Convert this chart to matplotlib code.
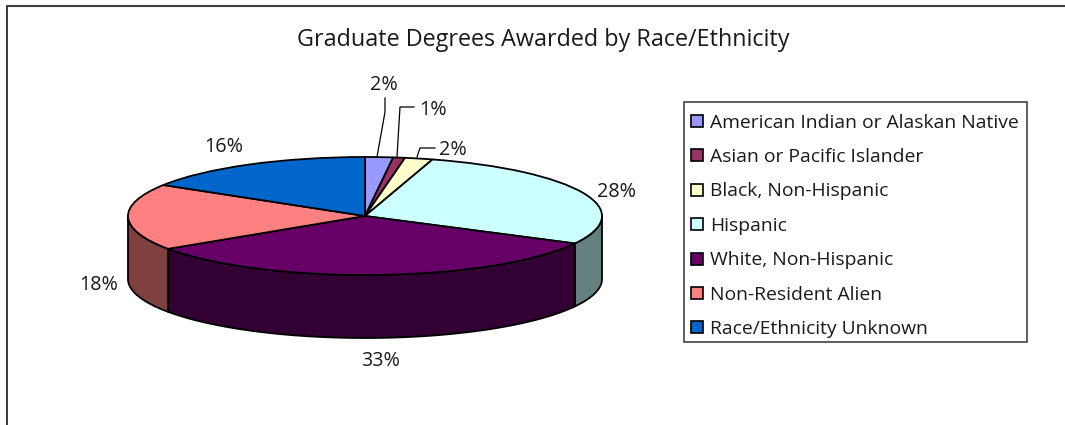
import numpy as np
import matplotlib
matplotlib.use("Agg")
import matplotlib.pyplot as plt
from matplotlib.patches import Polygon, Rectangle

title = "Graduate Degrees Awarded by Race/Ethnicity"
categories = ["American Indian or Alaskan Native", "Asian or Pacific Islander",
              "Black, Non-Hispanic", "Hispanic", "White, Non-Hispanic",
              "Non-Resident Alien", "Race/Ethnicity Unknown"]
values = [1.9, 0.8, 1.9, 28.1, 32.9, 18.2, 16.2]
labels = ["2%", "1%", "2%", "28%", "33%", "18%", "16%"]
colors = ["#9999FF", "#993366", "#FFFFCC", "#CCFFFF", "#660066", "#FF8080", "#0066CC"]
shades = ["#66669A", "#662244", "#9A9A80", "#668080", "#330033", "#804040", "#003366"]

W, H = 1065, 425
CX, CY, RX, RY, DEPTH = 365, 216, 237, 59, 63
FONT = "Open Sans"
plt.rcParams["font.family"] = [FONT, "DejaVu Sans"]
TXT = "#1a1a1a"

fig = plt.figure(figsize=(W / 100, H / 100), dpi=100, facecolor="white")
bg = fig.add_axes([0, 0, 1, 1])
bg.set_xlim(0, W); bg.set_ylim(H, 0); bg.axis("off")
bg.plot([7.3, 7.3], [425, 5], color="black", lw=1.1, solid_capstyle="butt")
bg.plot([7, 1065], [6, 6], color="#404040", lw=1.5, solid_capstyle="butt")

# pie axes: one data unit = one radius, in both directions
ax = fig.add_axes([0, 0, 1, 1], facecolor="none")
vals = np.array(values)
edges = 90 - 360 * np.concatenate([[0], np.cumsum(vals)]) / vals.sum()

def yd(d):
    return d / RY

# side walls of the slices visible on the front
for i in range(len(vals)):
    a0, a1 = edges[i], edges[i + 1]
    lo, hi = max(a1, -180), min(a0, 0)
    if hi <= lo:
        continue
    t = np.radians(np.linspace(hi, lo, 80))
    x, y = np.cos(t), np.sin(t)
    pts = np.r_[np.c_[x, y], np.c_[x, y - yd(DEPTH)][::-1]]
    ax.add_patch(Polygon(pts, closed=True, fc=shades[i], ec="black", lw=1.3, joinstyle="round"))

ax.pie(vals, colors=colors, startangle=90, counterclock=False, radius=1,
       wedgeprops=dict(edgecolor="black", linewidth=1.3))
ax.set_aspect("auto")
ax.set_xlim(-CX / RX, (W - CX) / RX)
ax.set_ylim(-(H - CY) / RY, CY / RY)
ax.axis("off")

bg.set_zorder(0); ax.set_zorder(1)
top = fig.add_axes([0, 0, 1, 1], facecolor="none")
top.set_xlim(0, W); top.set_ylim(H, 0); top.axis("off")
top.set_zorder(2)

top.text(543.5, 40, title, ha="center", va="center", fontsize=16.8, color=TXT)

label_pos = [(384, 85), (433, 110), (453, 150), (617, 192), (381, 361), (99, 285), (224, 147)]
for s, (x, y) in zip(labels, label_pos):
    top.text(x, y, s, ha="center", va="center", fontsize=14.2, color=TXT)

leaders = [([377, 385, 385], [157, 112, 98]),
           ([397, 400, 414], [157, 107, 107]),
           ([417, 420, 435], [157, 148, 148])]
for xs, ys in leaders:
    top.plot(xs, ys, color="black", lw=0.9)

# legend
top.add_patch(Rectangle((683.5, 102), 343, 240, fc="white", ec="#333333", lw=1.1))
for i, (c, n) in enumerate(zip(colors, categories)):
    y = 121 + i * 34.4
    top.add_patch(Rectangle((691, y - 6), 12, 12, fc=c, ec="black", lw=1.2))
    top.text(710, y + 1.5, n, ha="left", va="center", fontsize=13.85, color=TXT)

fig.savefig("out.png", dpi=100, facecolor="white")
